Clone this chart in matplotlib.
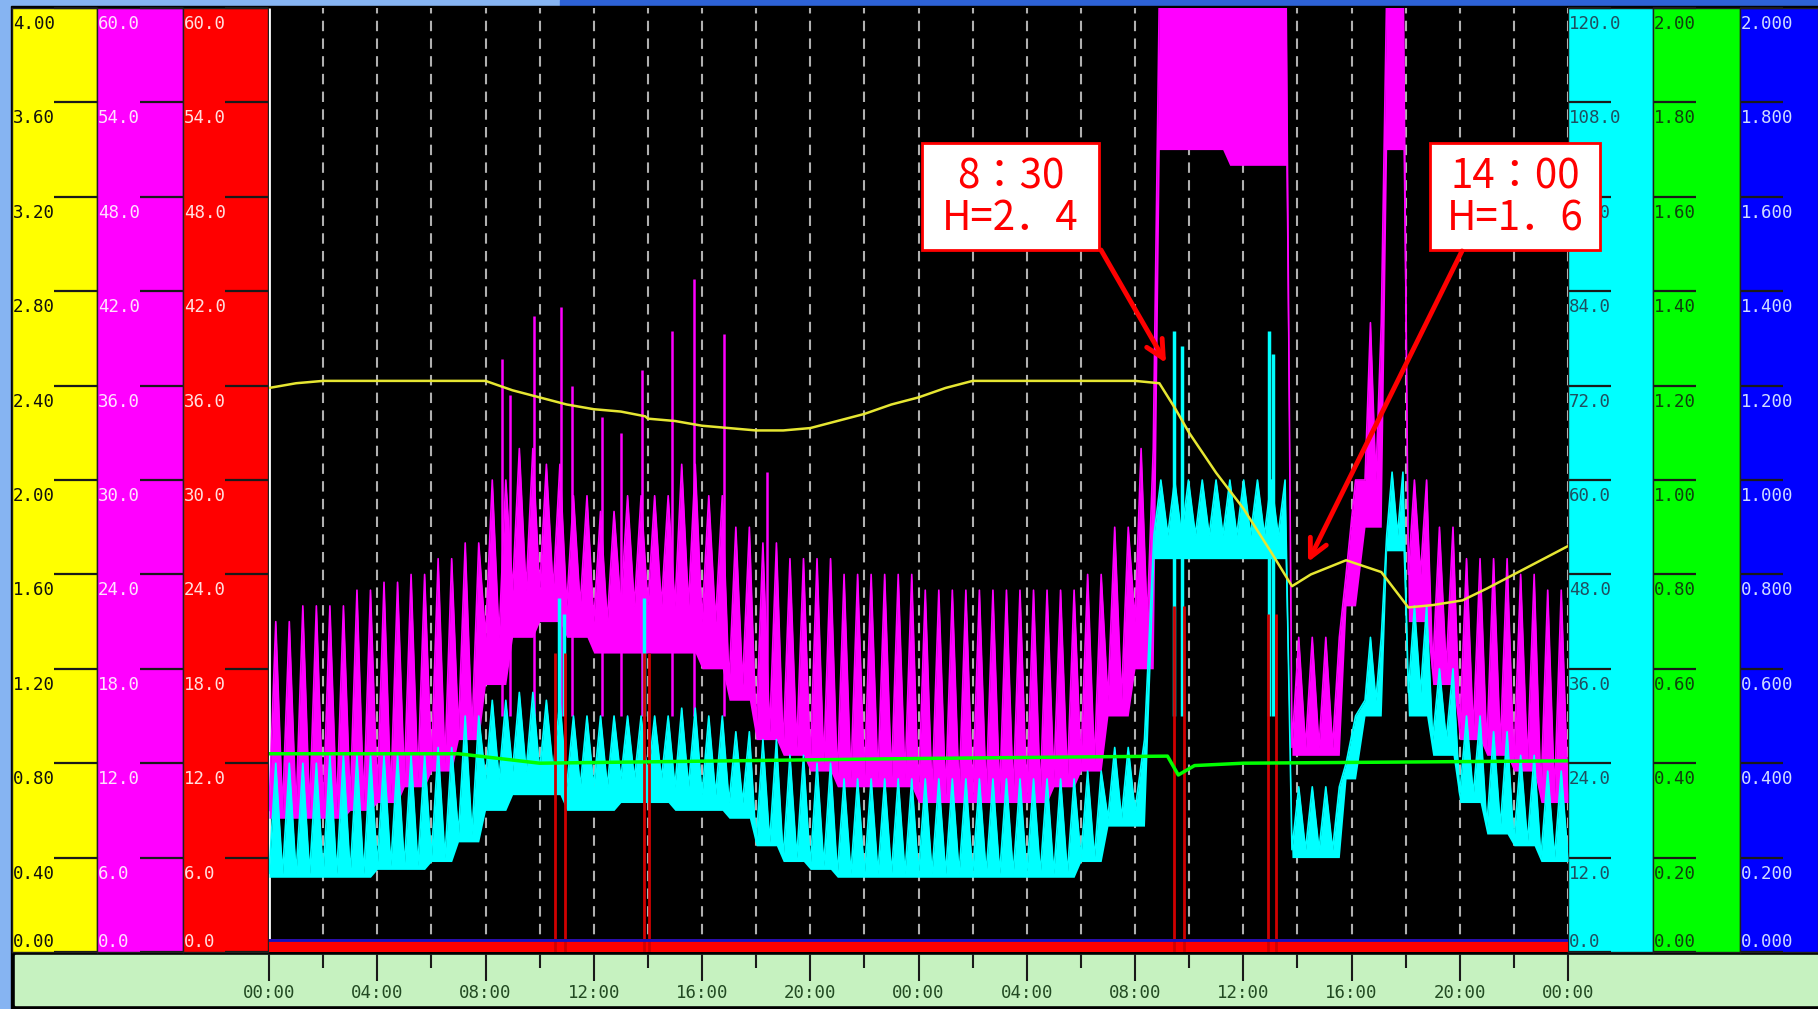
import numpy as np
import matplotlib
matplotlib.use('Agg')
import matplotlib.pyplot as plt
import matplotlib.transforms as mtransforms
from matplotlib.patches import Rectangle, FancyArrowPatch

plt.rcParams['font.family'] = ['DejaVu Sans Mono']

W, H = 1818, 1009
PLOT_L, PLOT_R, PLOT_T, PLOT_B = 269, 1568, 8, 952

# ---------------- data (hours from first 00:00) ----------------
hour_ticks = [0, 4, 8, 12, 16, 20, 24, 28, 32, 36, 40, 44, 48]
hour_labels = ['00:00', '04:00', '08:00', '12:00', '16:00', '20:00', '00:00',
               '04:00', '08:00', '12:00', '16:00', '20:00', '00:00']

# yellow : water level H (0-4)
level_t = [0, 1, 2, 8, 9, 10, 11, 12, 13, 13.9, 14, 15, 16, 17, 18, 19, 20, 21, 22,
           23, 24, 25, 26, 32, 32.9, 33.5, 34, 35, 36, 37, 37.8, 38.5, 39.8, 41.1,
           42.1, 43, 44.1, 45, 46, 47, 48]
level_v = [2.39, 2.41, 2.42, 2.42, 2.38, 2.35, 2.32, 2.30, 2.29, 2.27, 2.26, 2.25,
           2.23, 2.22, 2.21, 2.21, 2.22, 2.25, 2.28, 2.32, 2.35, 2.39, 2.42, 2.42,
           2.41, 2.30, 2.20, 2.03, 1.88, 1.70, 1.55, 1.60, 1.66, 1.61, 1.46, 1.47,
           1.49, 1.54, 1.60, 1.66, 1.72]

# magenta (0-60): segments start, floor, tooth low, tooth high
mag_t = [0, 1, 2, 3, 4, 5, 6, 7, 8, 9, 10, 11, 12, 13, 14, 15, 16, 17, 18, 19, 20,
         21, 24, 29, 30, 31, 32, 32.9, 35.5, 37.8, 39.8, 40.5, 41.3, 42.1, 43, 44,
         45, 46, 47]
mag_base = [8.5, 8.5, 8.5, 9, 9.5, 10.5, 11.5, 13.5, 17, 20, 21, 20, 19, 19, 19, 19,
            18, 16, 13.5, 12.5, 11.5, 10.5, 9.5, 10.5, 11.5, 15, 18, 51, 50, 12.5,
            22, 27, 51, 21, 17, 13.5, 12.5, 11.5, 9.5]
mag_low = [9, 9, 9, 9.5, 10, 11, 12, 14, 20, 23, 23, 22, 21, 22, 22, 22, 21, 17, 14,
           13, 12, 11, 10, 11, 12, 16, 21, 61, 61, 13, 24, 30, 61, 24, 18, 14, 13,
           12, 10]
mag_high = [21, 22, 22, 23, 23.5, 24, 25, 26, 30, 32, 31, 29, 28, 29, 29, 31, 29, 27,
            26, 25, 25, 24, 23, 23, 24, 27, 32, 64, 64, 20, 30, 40, 64, 30, 27, 25,
            25, 24, 23]
mag_spike_t = [8.6, 8.9, 9.8, 10.8, 11.2, 12.3, 13.0, 13.8, 14.9, 15.7, 16.8, 18.4]
mag_spike_v = [37.7, 35.4, 40.4, 41.0, 36.0, 34.0, 33.0, 37.0, 39.5, 42.8, 39.3, 30.5]

# cyan (0-120)
cyan_t = [0, 2, 4, 6, 7, 8, 9, 10, 11, 13, 15, 16, 17, 18, 19, 20, 21, 30, 31, 32,
          32.7, 37.8, 39.8, 40.5, 41.3, 42.1, 43, 44, 45, 46, 47]
cyan_base = [9.5, 9.5, 10.5, 11.5, 14, 18, 20, 20, 18, 19, 18, 18, 17, 13.5, 11.5,
             10.5, 9.5, 11.5, 16, 16, 50, 12, 22, 30, 51, 30, 25, 19, 15, 13.5, 11.5]
cyan_low = [10, 10, 11, 12, 15, 22, 23, 23, 21, 22, 21, 20, 19, 14, 12, 11, 10, 12,
            17, 18, 53, 13, 24, 32, 53, 33, 27, 20, 16, 14, 12]
cyan_high = [24, 25, 25, 26, 30, 32, 33, 32, 30, 30, 31, 30, 28, 27, 25, 24, 22, 23,
             26, 27, 60, 21, 30, 40, 61, 44, 36, 30, 28, 25, 23]
cyan_spike_t = [10.7, 10.9, 13.85, 33.45, 33.75, 36.95, 37.1]
cyan_spike_v = [45, 43, 45, 79, 77, 79, 76]

# green (0-2)
green_t = [0, 7, 10, 24, 33.2, 33.6, 34.2, 36, 48]
green_v = [0.42, 0.42, 0.40, 0.41, 0.415, 0.375, 0.395, 0.40, 0.405]

# red (0-60)
red_t = [10.55, 10.95, 13.85, 14.05, 33.45, 33.8, 36.9, 37.2]
red_v = [19, 19, 19, 19, 22, 22, 21.5, 21.5]
red_floor = 0.8

# blue (0-2)
blue_level = 0.026

# scale strips: (x0, x1, colour, top value, format, label colour, side)
strips = [
    (12, 97, '#ffff00', 4.0, '{:.2f}', '#101010', 'left'),
    (97, 183, '#ff00ff', 60.0, '{:.1f}', '#ffe0ff', 'left'),
    (183, 268, '#ff0000', 60.0, '{:.1f}', '#ffe0e0', 'left'),
    (1568, 1653, '#00ffff', 120.0, '{:.1f}', '#1f4f5f', 'right'),
    (1653, 1740, '#00ff00', 2.0, '{:.2f}', '#0f3f0f', 'right'),
    (1740, 1818, '#0000ff', 2.0, '{:.3f}', '#d0dcff', 'right'),
]


def px(x0, y0, x1, y1):
    return [x0 / W, 1 - y1 / H, (x1 - x0) / W, (y1 - y0) / H]


def teeth(seg_t, base, low, high, end=48):
    xs, ys, bs = [], [], []
    for i, t0 in enumerate(seg_t):
        t1 = seg_t[i + 1] if i + 1 < len(seg_t) else end
        n = max(1, int(round((t1 - t0) * 2)))
        step = (t1 - t0) / n
        for k in range(n):
            a = t0 + k * step
            xs += [a, a + step / 2]
            ys += [low[i], high[i]]
            bs += [base[i], base[i]]
    xs.append(end)
    ys.append(low[-1])
    bs.append(base[-1])
    return xs, ys, bs


fig = plt.figure(figsize=(W / 100, H / 100), dpi=100, facecolor='#86b4f2')

# window frame
fig.add_artist(Rectangle((560 / W, 1 - 7 / H), 1, 7 / H, transform=fig.transFigure,
                         color='#2d62d6', zorder=-3))
fig.add_artist(Rectangle((11 / W, 0), 1, 1 - 6 / H, transform=fig.transFigure,
                         color='black', zorder=-2))
fig.add_artist(Rectangle((15 / W, 4 / H), 1, (1005 - 955) / H, transform=fig.transFigure,
                         color='#c6f2c0', zorder=-1))

# scale strips
for x0, x1, col, top, fmt, tcol, side in strips:
    a = fig.add_axes(px(x0, PLOT_T, x1, PLOT_B))
    a.set_facecolor(col)
    a.set_xlim(0, 1)
    a.set_ylim(0, top)
    a.set_xticks([])
    vals = np.linspace(0, top, 11)
    a.set_yticks(vals)
    a.yaxis.set_ticks_position('right' if side == 'left' else 'left')
    a.tick_params(axis='y', direction='in', length=31, width=1.6, color='#1a1a1a',
                  labelleft=False, labelright=False)
    for s in a.spines.values():
        s.set_color('#202020')
        s.set_linewidth(1)
    tr = mtransforms.blended_transform_factory(a.transAxes, a.transData)
    for v in vals:
        if v == 0:
            t = mtransforms.offset_copy(tr, fig=fig, x=1, y=1, units='dots')
            a.text(0, v, fmt.format(v), transform=t, va='bottom', ha='left',
                   fontsize=12.5, color=tcol)
        else:
            t = mtransforms.offset_copy(tr, fig=fig, x=1, y=-7, units='dots')
            a.text(0, v, fmt.format(v), transform=t, va='top', ha='left',
                   fontsize=12.5, color=tcol)

# main trend area
rect = px(PLOT_L, PLOT_T, PLOT_R, PLOT_B)
ax = fig.add_axes(rect)
ax.set_facecolor('black')
ax.set_xlim(0, 48)
ax.set_ylim(0, 4)
ax.axis('off')
ax.add_patch(Rectangle((0, 0), 1, 1, transform=ax.transAxes, color='black', zorder=0))
ax.vlines(np.arange(2, 49, 2), 0, 4, colors='#b0b0b0', linestyles=(0, (5, 3.5)), lw=1.5)
ax.vlines([0], 0, 4, colors='white', lw=2)


def layer(top):
    a = fig.add_axes(rect, sharex=ax)
    a.set_ylim(0, top)
    a.patch.set_visible(False)
    a.axis('off')
    return a


ax_m = layer(60)
mx, my, mb = teeth(mag_t, mag_base, mag_low, mag_high)
ax_m.fill_between(mx, mb, my, color='#ff00ff', lw=0)
ax_m.plot(mx, my, color='#ff00ff', lw=1.2)
ax_m.vlines(mag_spike_t, 15, mag_spike_v, colors='#ff00ff', lw=1.8)

ax_c = layer(120)
cx, cy, cb = teeth(cyan_t, cyan_base, cyan_low, cyan_high)
ax_c.fill_between(cx, cb, cy, color='#00ffff', lw=0)
ax_c.plot(cx, cy, color='#00ffff', lw=1.2)
ax_c.vlines(cyan_spike_t, 30, cyan_spike_v, colors='#00ffff', lw=2.5)

ax_r = layer(60)
ax_r.fill_between([0, 48], 0, red_floor, color='#ff0000', lw=0)
ax_r.vlines(red_t, 0, red_v, colors='#d00000', lw=2)

ax_b = layer(2)
ax_b.plot([0, 48], [blue_level, blue_level], color='#1010c0', lw=2)

ax_g = layer(2)
ax_g.plot(green_t, green_v, color='#00ff00', lw=2.5)

ax_y = layer(4)
ax_y.plot(level_t, level_v, color='#e6e632', lw=1.8)

# time axis
axt = fig.add_axes(px(PLOT_L, 954, PLOT_R, 1005))
axt.patch.set_visible(False)
axt.set_xlim(0, 48)
axt.set_ylim(0, 1)
for s in axt.spines.values():
    s.set_visible(False)
axt.set_yticks([])
axt.xaxis.set_ticks_position('top')
axt.set_xticks(hour_ticks)
axt.set_xticks(np.arange(2, 48, 4), minor=True)
axt.tick_params(axis='x', which='major', direction='in', length=19.5, width=1.5,
                color='#1a1a1a', labeltop=False, labelbottom=False)
axt.tick_params(axis='x', which='minor', direction='in', length=10, width=1.5,
                color='#1a1a1a')
for h, lab in zip(hour_ticks, hour_labels):
    axt.text(h, 0.23, lab, ha='center', va='center', fontsize=12.5, color='#224a22')

# annotations
cjk = ['Noto Sans CJK JP', 'DejaVu Sans']
notes = [((922, 143, 1099, 250), '8：30', 'H=2．4', (1101, 250), (1166, 363)),
         ((1430, 143, 1600, 250), '14：00', 'H=1．6', (1462, 251), (1308, 562))]
for (x0, y0, x1, y1), l1, l2, tail, head in notes:
    fig.add_artist(Rectangle((x0 / W, 1 - y1 / H), (x1 - x0) / W, (y1 - y0) / H,
                             transform=fig.transFigure, facecolor='white',
                             edgecolor='#ff0000', lw=2, zorder=5))
    xc = (x0 + x1) / 2
    fig.text(xc / W, 1 - 177 / H, l1, ha='center', va='center', fontsize=29,
             color='#ff0000', family=cjk, zorder=6)
    fig.text(xc / W, 1 - 219 / H, l2, ha='center', va='center', fontsize=29,
             color='#ff0000', family=cjk, zorder=6)
    fig.add_artist(FancyArrowPatch((tail[0] / W, 1 - tail[1] / H),
                                   (head[0] / W, 1 - head[1] / H),
                                   transform=fig.transFigure, arrowstyle='->',
                                   mutation_scale=32, color='#ff0000', lw=3.5,
                                   shrinkA=0, shrinkB=0, zorder=6))

fig.savefig('out.png', dpi=100, facecolor=fig.get_facecolor())
